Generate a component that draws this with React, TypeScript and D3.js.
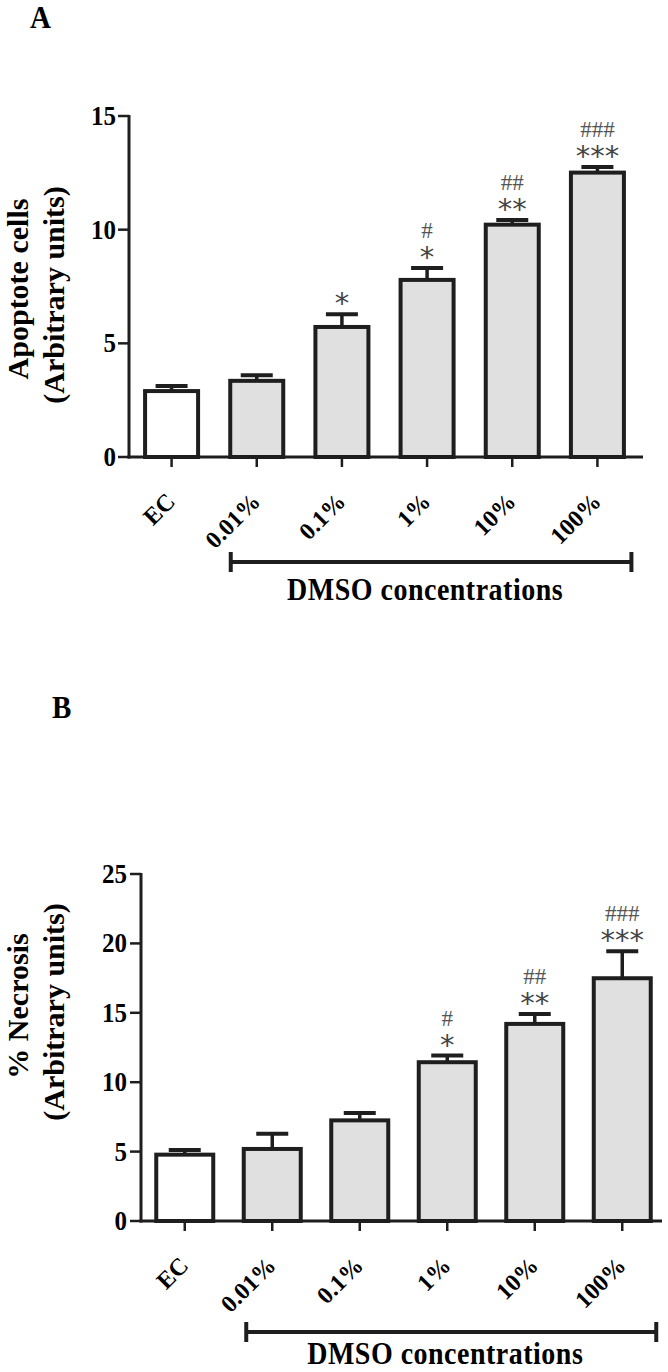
import React from "react";
import * as d3 from "d3";

const categories = ["EC", "0.01%", "0.1%", "1%", "10%", "100%"];

const apoptosisMean = [2.9, 3.35, 5.72, 7.79, 10.22, 12.51];
const apoptosisSem = [0.22, 0.25, 0.56, 0.52, 0.21, 0.25];
const apoptosisStars = ["", "", "*", "*", "**", "***"];
const apoptosisHashes = ["", "", "", "#", "##", "###"];
const apoptosisTicks = [0, 5, 10, 15];

const necrosisMean = [4.78, 5.19, 7.25, 11.44, 14.2, 17.49];
const necrosisSem = [0.34, 1.09, 0.53, 0.48, 0.72, 1.94];
const necrosisStars = ["", "", "", "*", "**", "***"];
const necrosisHashes = ["", "", "", "#", "##", "###"];
const necrosisTicks = [0, 5, 10, 15, 20, 25];

const INK = "#1e1e1e";
const SERIF = "'Liberation Serif', 'Times New Roman', serif";

type PanelProps = {
  letter: string;
  letterX: number;
  letterY: number;
  means: number[];
  sems: number[];
  stars: string[];
  hashes: string[];
  ticks: number[];
  xLeft: number;
  xRight: number;
  yBottom: number;
  yTop: number;
  axisEnd: number;
  barOuter: number;
  titleLines: string[];
  titleCenterY: number;
  labelGap: number;
  rangeY: number;
  rangeTextDy: number;
};

function Panel(p: PanelProps) {
  const x = d3.scaleBand<string>().domain(categories).range([p.xLeft, p.xRight]);
  const yMax = p.ticks[p.ticks.length - 1];
  const y = d3.scaleLinear().domain([0, yMax]).range([p.yBottom, p.yTop]);
  const sw = 4;
  const cx = (c: string) => (x(c) as number) + x.bandwidth() / 2;
  const rangeStart = cx(categories[1]) - 26;
  const rangeEnd = cx(categories[categories.length - 1]) + 34;
  return (
    <g>
      <text
        transform={`translate(${p.letterX},${p.letterY}) scale(1,1.1)`}
        fontFamily={SERIF}
        fontWeight="bold"
        fontSize={29}
        fill="#000"
      >
        {p.letter}
      </text>
      {/* y title */}
      {p.titleLines.map((t, i) => (
        <text
          key={t}
          transform={`translate(${i === 0 ? 28 : 64},${p.titleCenterY + (i === 0 ? 0 : 6)}) rotate(-90)`}
          textAnchor="middle"
          fontFamily={SERIF}
          fontWeight="bold"
          fontSize={30}
          fill="#000"
        >
          {t}
        </text>
      ))}
      {/* bars */}
      {categories.map((c, i) => {
        const v = p.means[i];
        const top = y(v);
        const capY = y(v + p.sems[i]);
        const cxx = cx(c);
        return (
          <g key={c}>
            <line x1={cxx} x2={cxx} y1={top} y2={capY} stroke={INK} strokeWidth={3.5} />
            <line x1={cxx - 16} x2={cxx + 16} y1={capY} y2={capY} stroke={INK} strokeWidth={4} />
            <rect
              x={cxx - p.barOuter / 2 + sw / 2}
              y={top}
              width={p.barOuter - sw}
              height={p.yBottom - top}
              fill={i === 0 ? "#ffffff" : "#e0e0e0"}
              stroke={INK}
              strokeWidth={sw}
            />
            {p.stars[i] && (
              <text
                x={cxx}
                y={capY - 1}
                textAnchor="middle"
                fontFamily="'DejaVu Sans', sans-serif"
                fontSize={29}
                fill="#444"
              >
                {p.stars[i]}
              </text>
            )}
            {p.hashes[i] && (
              <text
                x={cxx}
                y={capY - 30}
                textAnchor="middle"
                fontFamily={SERIF}
                fontSize={23}
                fill="#555"
              >
                {p.hashes[i]}
              </text>
            )}
          </g>
        );
      })}
      {/* axes */}
      <line x1={p.xLeft} x2={p.xLeft} y1={p.yTop - 1} y2={p.yBottom + 1.5} stroke={INK} strokeWidth={3} />
      <line x1={p.xLeft - 1.5} x2={p.axisEnd} y1={p.yBottom} y2={p.yBottom} stroke={INK} strokeWidth={3} />
      {p.ticks.map((t) => (
        <g key={t}>
          <line x1={p.xLeft - 11} x2={p.xLeft} y1={y(t)} y2={y(t)} stroke={INK} strokeWidth={2.5} />
          <text
            transform={`translate(${p.xLeft - 11 - p.labelGap},${y(t) + 9}) scale(1,1.12)`}
            textAnchor="end"
            fontFamily={SERIF}
            fontWeight="bold"
            fontSize={25}
            fill="#000"
          >
            {t}
          </text>
        </g>
      ))}
      {categories.map((c) => (
        <g key={"t" + c}>
          <line x1={cx(c)} x2={cx(c)} y1={p.yBottom} y2={p.yBottom + 10} stroke={INK} strokeWidth={2.5} />
          <text
            transform={`translate(${cx(c) + 5},${p.yBottom + 46}) rotate(-45)`}
            textAnchor="end"
            fontFamily={SERIF}
            fontWeight="bold"
            fontSize={24}
            fill="#000"
          >
            {c}
          </text>
        </g>
      ))}
      {/* DMSO range bracket */}
      <line x1={rangeStart} x2={rangeEnd} y1={p.rangeY} y2={p.rangeY} stroke={INK} strokeWidth={4} />
      <line x1={rangeStart} x2={rangeStart} y1={p.rangeY - 10} y2={p.rangeY + 10} stroke={INK} strokeWidth={4} />
      <line x1={rangeEnd} x2={rangeEnd} y1={p.rangeY - 10} y2={p.rangeY + 10} stroke={INK} strokeWidth={4} />
      <text
        transform={`translate(${(rangeStart + rangeEnd) / 2 - 6},${p.rangeY + p.rangeTextDy}) scale(1,1.15)`}
        textAnchor="middle"
        fontFamily={SERIF}
        fontWeight="bold"
        fontSize={28}
        letterSpacing={0.5}
        fill="#000"
      >
        DMSO concentrations
      </text>
    </g>
  );
}

export default function App() {
  return (
    <svg
      width={668}
      height={1372}
      viewBox="0 0 668 1372"
      style={{ position: "absolute", left: 0, top: 0, background: "#fff" }}
    >
      <rect x={0} y={0} width={668} height={1372} fill="#fff" />
      <Panel
        letter="A"
        letterX={30}
        letterY={28}
        means={apoptosisMean}
        sems={apoptosisSem}
        stars={apoptosisStars}
        hashes={apoptosisHashes}
        ticks={apoptosisTicks}
        xLeft={129}
        xRight={640}
        yBottom={457}
        yTop={116}
        axisEnd={643}
        barOuter={57}
        titleLines={["Apoptote cells", "(Arbitrary units)"]}
        titleCenterY={289}
        labelGap={2}
        rangeY={562}
        rangeTextDy={38}
      />
      <Panel
        letter="B"
        letterX={52}
        letterY={718}
        means={necrosisMean}
        sems={necrosisSem}
        stars={necrosisStars}
        hashes={necrosisHashes}
        ticks={necrosisTicks}
        xLeft={141}
        xRight={666}
        yBottom={1221}
        yTop={874}
        axisEnd={662}
        barOuter={61}
        titleLines={["% Necrosis", "(Arbitrary units)"]}
        titleCenterY={1006}
        labelGap={3}
        rangeY={1332}
        rangeTextDy={32}
      />
    </svg>
  );
}
